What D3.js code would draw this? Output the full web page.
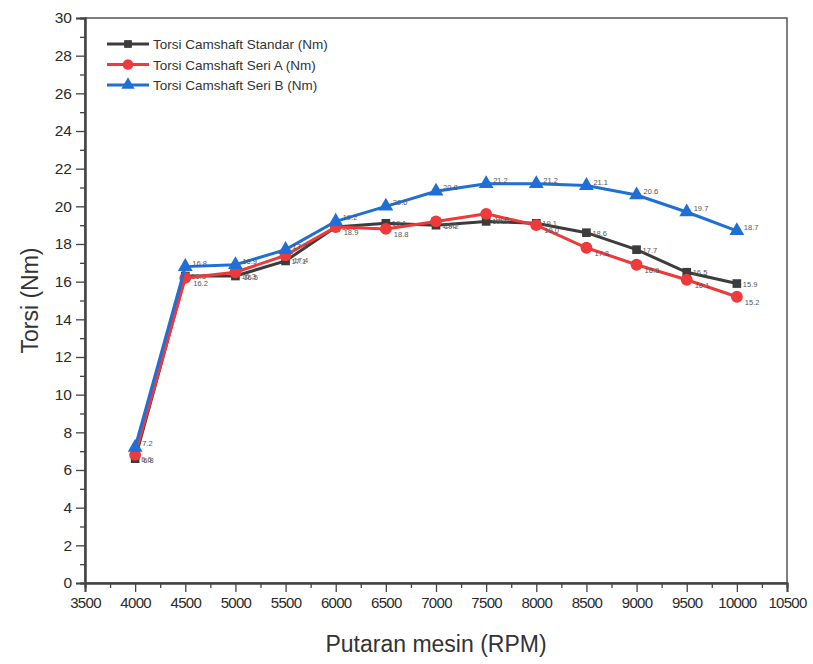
<!DOCTYPE html>
<html>
<head>
<meta charset="utf-8">
<script src="https://cdn.jsdelivr.net/npm/d3@7"></script>
<style>
  body { margin: 0; background: #fff; }
  svg text { font-family: "Liberation Sans", Arial, sans-serif; }
</style>
</head>
<body>
<svg id="chart"></svg>
<script>
// data
const rpm = [4000, 4500, 5000, 5500, 6000, 6500, 7000, 7500, 8000, 8500, 9000, 9500, 10000];
const standar = [6.6, 16.3, 16.3, 17.1, 18.9, 19.1, 19.0, 19.2, 19.1, 18.6, 17.7, 16.5, 15.9];
const seriA = [6.8, 16.2, 16.5, 17.4, 18.9, 18.8, 19.2, 19.6, 19.0, 17.8, 16.9, 16.1, 15.2];
const seriB = [7.2, 16.8, 16.9, 17.7, 19.2, 20.0, 20.8, 21.2, 21.2, 21.1, 20.6, 19.7, 18.7];
const seriesNames = ["Torsi Camshaft Standar (Nm)", "Torsi Camshaft Seri A (Nm)", "Torsi Camshaft Seri B (Nm)"];
const xTicks = d3.range(3500, 10501, 500);
const yTicks = d3.range(0, 31, 2);

const width = 813, height = 664;
const margin = { left: 85, right: 26, top: 18, bottom: 81 };

const svg = d3.select("#chart").attr("width", width).attr("height", height);

const x = d3.scaleLinear().domain([3500, 10500]).range([margin.left, width - margin.right]);
const y = d3.scaleLinear().domain([0, 30]).range([height - margin.bottom, margin.top]);

// frame
svg.append("rect")
    .attr("x", x(3500)).attr("y", y(30))
    .attr("width", x(10500) - x(3500)).attr("height", y(0) - y(30))
    .attr("fill", "none").attr("stroke", "#555").attr("stroke-width", 1.5);

// x axis with minor ticks
const xMinor = d3.axisBottom(x).tickValues(d3.range(3750, 10500, 500)).tickSize(5).tickFormat("");
svg.append("g").attr("transform", `translate(0,${y(0)})`).call(xMinor);
const xAxis = d3.axisBottom(x).tickValues(xTicks).tickSize(9).tickPadding(5).tickFormat(d3.format("d"));
svg.append("g").attr("class", "xaxis").attr("transform", `translate(0,${y(0)})`).call(xAxis);

// y axis with minor ticks
const yMinor = d3.axisLeft(y).tickValues(d3.range(1, 30, 2)).tickSize(5).tickFormat("");
svg.append("g").attr("transform", `translate(${x(3500)},0)`).call(yMinor);
const yAxis = d3.axisLeft(y).tickValues(yTicks).tickSize(9).tickPadding(4);
svg.append("g").attr("class", "yaxis").attr("transform", `translate(${x(3500)},0)`).call(yAxis);

svg.selectAll(".domain").attr("stroke", "#444").attr("stroke-width", 2);
svg.selectAll(".tick line").attr("stroke", "#444").attr("stroke-width", 1.3);
svg.selectAll(".xaxis text").attr("font-size", 15).attr("fill", "#2a2a2a").attr("letter-spacing", -0.7);
svg.selectAll(".yaxis text").attr("font-size", 15.5).attr("fill", "#2a2a2a");

// axis titles
svg.append("text")
    .attr("x", (x(3500) + x(10500)) / 2).attr("y", 652)
    .attr("text-anchor", "middle").attr("font-size", 23).attr("fill", "#333")
    .text("Putaran mesin (RPM)");
svg.append("text")
    .attr("transform", `translate(38,${(y(0) + y(30)) / 2}) rotate(-90)`)
    .attr("text-anchor", "middle").attr("font-size", 23).attr("fill", "#333")
    .text("Torsi (Nm)");

const series = [
    { name: seriesNames[0], values: standar, color: "#3c3c3c", shape: d3.symbolSquare, size: 75, dx: 6, dy: 3 },
    { name: seriesNames[1], values: seriA, color: "#ee3a3a", shape: d3.symbolCircle, size: 110, dx: 8, dy: 8 },
    { name: seriesNames[2], values: seriB, color: "#1f6fd6", shape: d3.symbolTriangle, size: 95, dx: 7, dy: -1 }
];

const line = d3.line().x((d, i) => x(rpm[i])).y(d => y(d));

series.forEach(s => {
    const g = svg.append("g");
    g.append("path").datum(s.values)
        .attr("d", line).attr("fill", "none")
        .attr("stroke", s.color).attr("stroke-width", 3);
    g.selectAll("path.pt").data(s.values).enter().append("path")
        .attr("class", "pt")
        .attr("transform", (d, i) => `translate(${x(rpm[i])},${y(d)})`)
        .attr("d", d3.symbol().type(s.shape).size(s.size))
        .attr("fill", s.color);
    // value labels
    g.selectAll("text").data(s.values).enter().append("text")
        .attr("x", (d, i) => x(rpm[i]) + s.dx).attr("y", d => y(d) + s.dy)
        .attr("font-size", 7.5).attr("fill", "#555")
        .text(d => d.toFixed(1));
});

// legend
const legend = svg.append("g").attr("transform", "translate(107,44)");
series.forEach((s, i) => {
    const row = legend.append("g").attr("transform", `translate(0,${i * 20.5})`);
    row.append("line").attr("x1", 0).attr("x2", 42).attr("y1", 0).attr("y2", 0)
        .attr("stroke", s.color).attr("stroke-width", 3);
    row.append("path").attr("transform", "translate(21,0)")
        .attr("d", d3.symbol().type(s.shape).size(s.size * 0.8)).attr("fill", s.color);
    row.append("text").attr("x", 46).attr("y", 5)
        .attr("font-size", 13.5).attr("fill", "#333").text(s.name);
});
</script>
</body>
</html>
